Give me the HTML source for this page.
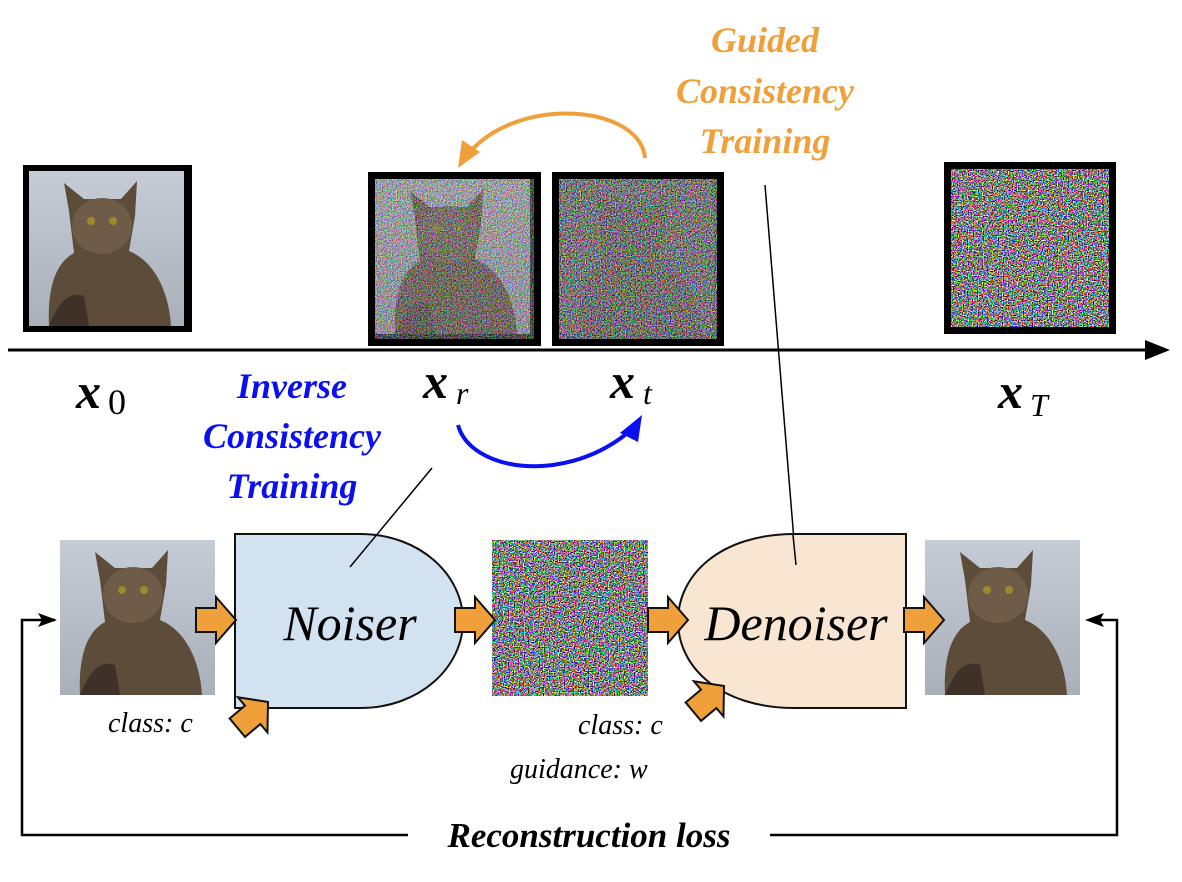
<!DOCTYPE html>
<html><head><meta charset="utf-8"><style>
body{margin:0;background:#fff;width:1182px;height:882px;overflow:hidden}
svg{display:block}
.t{font-family:"Liberation Serif",serif;font-style:italic}
</style></head><body>
<svg width="1182" height="882" viewBox="0 0 1182 882" xmlns="http://www.w3.org/2000/svg">
<defs>
<filter id="nz" x="0" y="0" width="100%" height="100%" color-interpolation-filters="sRGB">
<feTurbulence type="fractalNoise" baseFrequency="0.8" numOctaves="1" seed="3"/>
<feComponentTransfer><feFuncR type="linear" slope="6" intercept="-2.5"/><feFuncG type="linear" slope="6" intercept="-2.5"/><feFuncB type="linear" slope="6" intercept="-2.5"/><feFuncA type="linear" slope="0" intercept="1"/></feComponentTransfer>
</filter>
<filter id="nz2" x="0" y="0" width="100%" height="100%" color-interpolation-filters="sRGB">
<feTurbulence type="fractalNoise" baseFrequency="0.8" numOctaves="1" seed="7"/>
<feComponentTransfer><feFuncR type="linear" slope="3" intercept="-1"/><feFuncG type="linear" slope="3" intercept="-1"/><feFuncB type="linear" slope="3" intercept="-1"/><feFuncA type="linear" slope="0" intercept="1"/></feComponentTransfer>
</filter>
<linearGradient id="sky" x1="0" y1="0" x2="0" y2="1"><stop offset="0" stop-color="#c5ccd6"/><stop offset="1" stop-color="#a9b0ba"/></linearGradient>
<g id="cat">
<rect width="155" height="155" fill="url(#sky)"/>
<path d="M20 155 C18 110 30 90 45 82 L40 40 L35 12 L55 28 L92 28 L108 10 L106 45 L100 80 C125 90 140 120 142 155Z" fill="#5e4c3a"/>
<ellipse cx="73" cy="55" rx="30" ry="28" fill="#6f5c48"/>
<circle cx="62" cy="50" r="4" fill="#9a8a2a"/><circle cx="84" cy="50" r="4" fill="#9a8a2a"/>
<path d="M20 155 C30 130 40 120 55 125 L60 155Z" fill="#3e3228"/>
</g>
<g id="noise"><rect width="156" height="156" fill="#888" filter="url(#nz)"/></g>
<g id="barr"><path d="M0 -12 L20 -12 L20 -23 L40 0 L20 23 L20 12 L0 12Z" fill="#f0a03a" stroke="#111" stroke-width="2" stroke-linejoin="miter"/></g>
</defs>

<rect x="23" y="165" width="169" height="167" fill="#000"/>
<g transform="translate(29,171)"><use href="#cat"/></g>

<rect x="368" y="172" width="173" height="174" fill="#000"/>
<g transform="translate(375,179)"><use href="#cat"/><rect width="159" height="160" fill="#888" filter="url(#nz2)" opacity="0.6"/></g>

<rect x="552" y="172" width="172" height="174" fill="#000"/>
<g transform="translate(559,179)"><use href="#cat" opacity="0.4"/><rect width="158" height="160" fill="#888" filter="url(#nz2)" opacity="0.85"/></g>

<rect x="944" y="162" width="172" height="172" fill="#000"/>
<g transform="translate(951,169)"><rect width="158" height="158" fill="#888" filter="url(#nz)"/></g>

<line x1="8" y1="350" x2="1148" y2="350" stroke="#000" stroke-width="3"/>
<path d="M1170 350 L1145 340 L1145 360Z" fill="#000"/>

<text x="76" y="408" class="t" font-weight="bold" font-size="50">x</text><text x="108" y="414" font-family="Liberation Serif,serif" font-size="36">0</text>
<text x="423" y="398" class="t" font-weight="bold" font-size="50">x</text><text x="456" y="404" class="t" font-size="32">r</text>
<text x="610" y="398" class="t" font-weight="bold" font-size="50">x</text><text x="643" y="404" class="t" font-size="32">t</text>
<text x="998" y="408" class="t" font-weight="bold" font-size="50">x</text><text x="1030" y="416" class="t" font-size="32">T</text>

<g class="t" font-weight="bold" font-size="36" fill="#0a10f0" text-anchor="middle">
<text x="292" y="398">Inverse</text>
<text x="292" y="448">Consistency</text>
<text x="292" y="498">Training</text>
</g>
<g class="t" font-weight="bold" font-size="36" fill="#f0a03a" text-anchor="middle">
<text x="765" y="52">Guided</text>
<text x="765" y="103">Consistency</text>
<text x="765" y="153">Training</text>
</g>

<path d="M458 425 C470 470 560 485 625 435" fill="none" stroke="#0a10f0" stroke-width="4"/>
<path d="M642 415 L620 433 L638 442Z" fill="#0a10f0"/>
<path d="M645 158 C640 105 520 95 470 152" fill="none" stroke="#f0a03a" stroke-width="4"/>
<path d="M458 168 L462 140 L480 152Z" fill="#f0a03a"/>

<line x1="765" y1="185" x2="796" y2="565" stroke="#000" stroke-width="1.5"/>

<g transform="translate(60,540)"><use href="#cat"/></g>
<g transform="translate(492,540)"><use href="#noise"/></g>
<g transform="translate(925,540)"><use href="#cat"/></g>

<path d="M235 534 L360 534 C420 534 463 575 463 621 C463 667 420 708 360 708 L235 708Z" fill="#d3e2f1" stroke="#111" stroke-width="2"/>
<line x1="432" y1="468" x2="350" y2="567" stroke="#000" stroke-width="1.5"/>
<text x="350" y="640" text-anchor="middle" class="t" font-size="50">Noiser</text>

<path d="M906 534 L795 534 C720 534 678 575 678 621 C678 667 720 708 795 708 L906 708Z" fill="#f8e6d3" stroke="#111" stroke-width="2"/>
<line x1="793" y1="535" x2="796" y2="565" stroke="#000" stroke-width="1.5"/>
<text x="796" y="640" text-anchor="middle" class="t" font-size="50">Denoiser</text>

<use href="#barr" x="196" y="620"/>
<use href="#barr" x="455" y="620"/>
<use href="#barr" x="648" y="620"/>
<use href="#barr" x="904" y="620"/>
<g transform="translate(268,702) rotate(-40)"><use href="#barr" x="-40"/></g>
<g transform="translate(724,686) rotate(-40)"><use href="#barr" x="-40"/></g>

<g class="t" font-size="28">
<text x="108" y="732">class: c</text>
<text x="578" y="734">class: c</text>
<text x="510" y="778">guidance: w</text>
</g>

<path d="M55 620 L22 620 L22 835 L1117 835 L1117 620 L1097 620" fill="none" stroke="#000" stroke-width="2.5"/>
<path d="M57 620 L38 613 L42 620 L38 627Z" fill="#000"/>
<path d="M1085 620 L1104 613 L1100 620 L1104 627Z" fill="#000"/>
<rect x="408" y="815" width="362" height="40" fill="#fff"/>
<text x="589" y="847" text-anchor="middle" class="t" font-weight="bold" font-size="35">Reconstruction loss</text>
</svg>
</body></html>
